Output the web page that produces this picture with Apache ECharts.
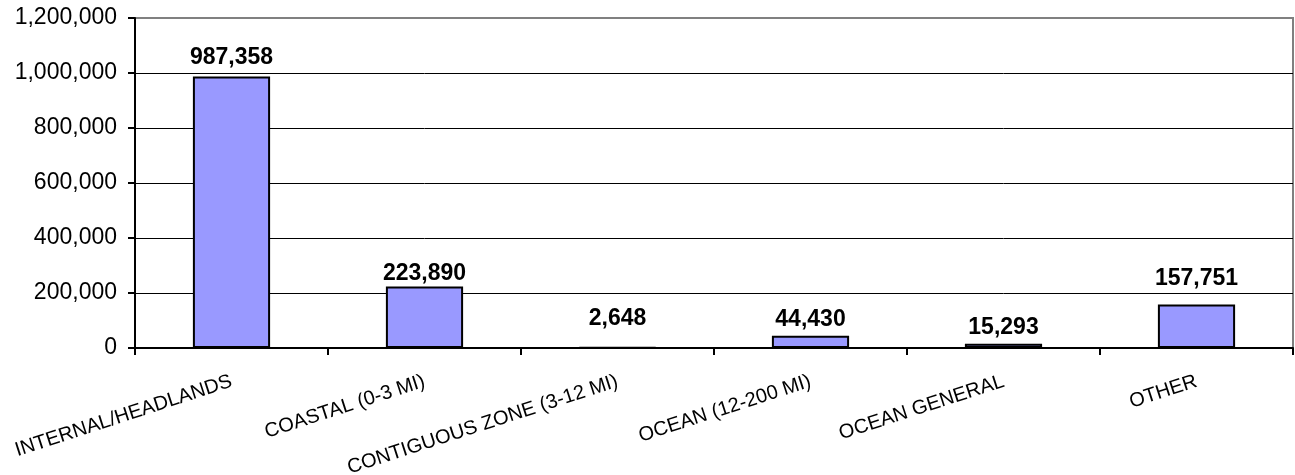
<!DOCTYPE html>
<html>
<head>
<meta charset="utf-8">
<script src="https://cdn.jsdelivr.net/npm/echarts@6/dist/echarts.min.js"></script>
<style>
html,body{margin:0;padding:0;background:#fff;}
#chart{width:1295px;height:475px;}
</style>
</head>
<body>
<div id="chart"></div>
<script>
const categories = ['INTERNAL/HEADLANDS', 'COASTAL (0-3 MI)', 'CONTIGUOUS ZONE (3-12 MI)', 'OCEAN (12-200 MI)', 'OCEAN GENERAL', 'OTHER'];
const values = [987358, 223890, 2648, 44430, 15293, 157751];
const yTicks = [0, 200000, 400000, 600000, 800000, 1000000, 1200000];
const labelGaps = [7, 1, 16, 5, 5, 14];

const FONT = 'Arial, "Liberation Sans", sans-serif';
const fmt = v => Number(v).toLocaleString('en-US');

const chart = echarts.init(document.getElementById('chart'), null, {renderer: 'canvas'});
chart.setOption({
  animation: false,
  backgroundColor: '#ffffff',
  grid: {
    left: 135, right: 2, top: 18, bottom: 127,
    containLabel: false, outerBoundsMode: 'none',
    show: true, borderColor: '#808080', borderWidth: 2, backgroundColor: 'transparent'
  },
  xAxis: {
    type: 'category',
    data: categories,
    boundaryGap: true,
    axisLine: {lineStyle: {color: '#000', width: 2}},
    axisTick: {show: true, length: 7, lineStyle: {color: '#000', width: 2}},
    axisLabel: {
      rotate: 18, margin: 33, interval: 0,
      fontFamily: FONT, fontSize: 20, color: '#000'
    }
  },
  yAxis: {
    type: 'value',
    min: yTicks[0], max: yTicks[yTicks.length - 1], interval: yTicks[1] - yTicks[0],
    axisLine: {show: true, lineStyle: {color: '#000', width: 2}},
    axisTick: {show: true, length: 7, lineStyle: {color: '#000', width: 2}},
    axisLabel: {
      margin: 18, fontFamily: FONT, fontSize: 23, color: '#000',
      formatter: v => fmt(v)
    },
    splitLine: {show: true, lineStyle: {color: ['#000','#000','#000','#000','#000','#000','#808080'], width: 1}}
  },
  series: [{
    type: 'bar',
    barWidth: '40%',
    data: values.map((v, i) => ({
      value: v,
      label: {distance: labelGaps[i]}
    })),
    itemStyle: {color: '#9999FF', borderColor: '#000', borderWidth: 2},
    label: {
      show: true, position: 'top',
      fontFamily: FONT, fontSize: 23, fontWeight: 'bold', color: '#000',
      formatter: p => fmt(p.value)
    }
  }]
});
</script>
</body>
</html>
